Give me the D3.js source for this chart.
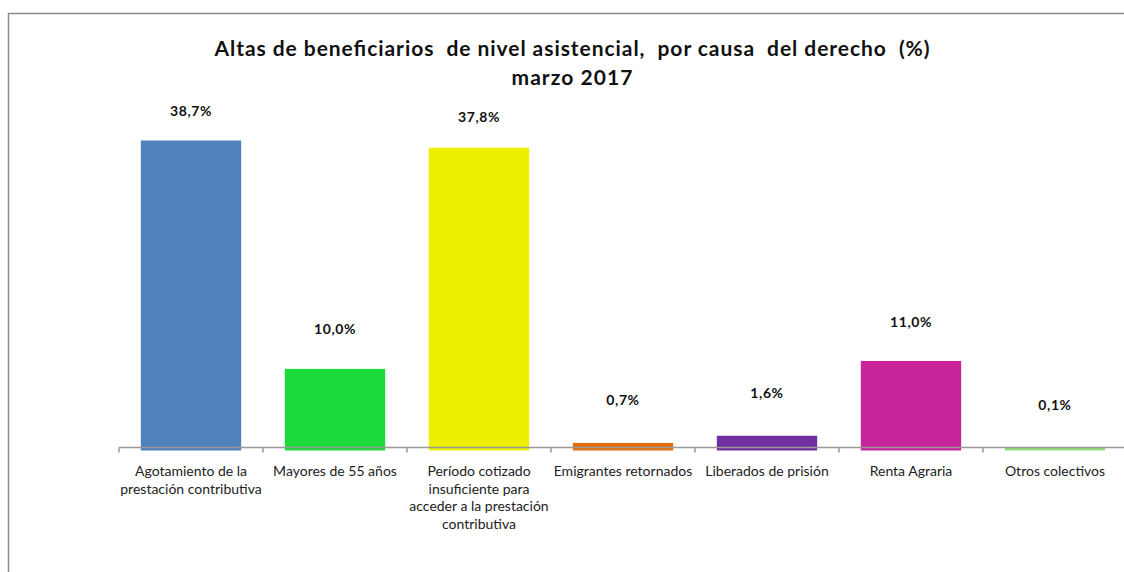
<!DOCTYPE html>
<html>
<head>
<meta charset="utf-8">
<script src="https://cdn.jsdelivr.net/npm/d3@7"></script>
<style>
  body { margin: 0; background: #fff; }
  svg { display: block; font-family: Lato, "Open Sans", sans-serif; }
</style>
</head>
<body>
<svg id="chart" width="1124" height="572"></svg>
<script>
const categories = [
    "Agotamiento de la|prestación contributiva",
    "Mayores de 55 años",
    "Período cotizado|insuficiente para|acceder a la prestación|contributiva",
    "Emigrantes retornados",
    "Liberados de prisión",
    "Renta Agraria",
    "Otros colectivos"
];
const values = [38.7, 10.0, 37.8, 0.7, 1.6, 11.0, 0.1];
const colors = ["#4f81bd", "#1adb3a", "#eeee00", "#e46c0a", "#7030a0", "#c9259b", "#92dd7a"];
const titleLines = [
    "Altas de beneficiarios  de nivel asistencial,  por causa  del derecho  (%)",
    "marzo 2017"
];

const svg = d3.select("#chart");

// chart frame (runs off the right and bottom of the picture)
svg.append("path")
    .attr("d", "M8.5,572 V13.5 H1124")
    .attr("fill", "none")
    .attr("stroke", "#8c8c8c")
    .attr("stroke-width", 1.5);

// title
svg.append("text")
    .attr("text-anchor", "middle")
    .style("font-size", "21px")
    .style("font-weight", "bold")
    .style("white-space", "pre")
    .attr("fill", "#111")
    .selectAll("tspan")
    .data(titleLines)
    .enter()
    .append("tspan")
    .attr("x", 572)
    .attr("y", (d, i) => 56 + i * 29)
    .attr("textLength", (d, i) => (i === 0 ? 715 : 121))
    .attr("lengthAdjust", "spacing")
    .text((d) => d);

const x = d3.scaleBand()
    .domain(categories)
    .range([119, 1127])
    .paddingInner(0.31)
    .paddingOuter(0.155);

const y = d3.scaleLinear().domain([0, 38.7]).range([449.5, 141.5]);

// bars
svg.selectAll("rect.bar")
    .data(values)
    .enter()
    .append("rect")
    .attr("class", "bar")
    .attr("x", (d, i) => x(categories[i]) + 0.5)
    .attr("y", (d) => y(d))
    .attr("width", x.bandwidth() - 1)
    .attr("height", (d) => y(0) - y(d))
    .attr("fill", (d, i) => colors[i])
    .attr("stroke", (d, i) => colors[i])
    .attr("stroke-width", 2);

// value labels
svg.selectAll("text.value")
    .data(values)
    .enter()
    .append("text")
    .attr("class", "value")
    .attr("x", (d, i) => x(categories[i]) + x.bandwidth() / 2)
    .attr("y", (d) => 0.958 * y(d) - 20)
    .attr("text-anchor", "middle")
    .style("font-size", "14px")
    .style("font-weight", "bold")
    .style("letter-spacing", "0.6px")
    .attr("fill", "#111")
    .text((d) => d.toFixed(1).replace(".", ",") + "%");

// category axis, drawn over the bars
const axisY = 447.5;
const step = x.step();
svg.append("line")
    .attr("x1", 119).attr("x2", 1127)
    .attr("y1", axisY).attr("y2", axisY)
    .attr("stroke", "#999")
    .attr("stroke-width", 1.5);

svg.selectAll("line.tick")
    .data(d3.range(categories.length + 1))
    .enter()
    .append("line")
    .attr("class", "tick")
    .attr("x1", (i) => 119 + i * step)
    .attr("x2", (i) => 119 + i * step)
    .attr("y1", axisY)
    .attr("y2", axisY + 5)
    .attr("stroke", "#999")
    .attr("stroke-width", 1.5);

svg.selectAll("text.cat")
    .data(categories)
    .enter()
    .append("text")
    .attr("class", "cat")
    .attr("text-anchor", "middle")
    .style("font-size", "14px")
    .attr("fill", "#222")
    .each(function (d) {
        const cx = x(d) + x.bandwidth() / 2;
        d3.select(this)
            .selectAll("tspan")
            .data(d.split("|"))
            .enter()
            .append("tspan")
            .attr("x", cx)
            .attr("y", (t, i) => 476 + i * 17.5)
            .text((t) => t);
    });
</script>
</body>
</html>
